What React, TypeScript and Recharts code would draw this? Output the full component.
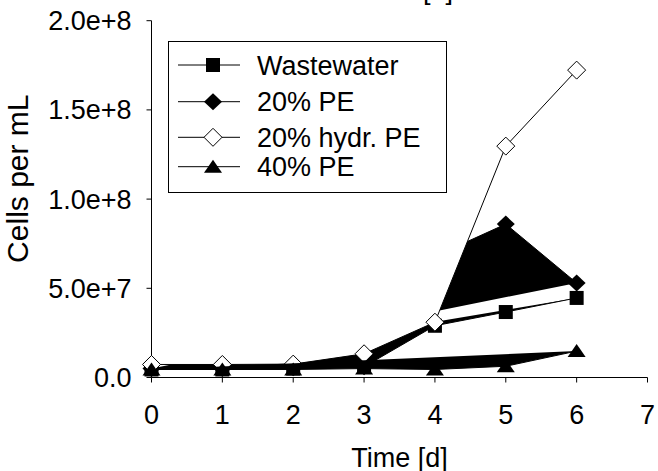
import React from "react";
import { ScatterChart, Scatter, XAxis, YAxis, Legend } from "recharts";

// cells per mL
const days = [0, 1, 2, 3, 4, 5, 6];
const wastewater = [4.5e6, 4.5e6, 5.0e6, 6.0e6, 2.9e7, 3.67e7, 4.46e7];
const pe20 = [5.0e6, 5.0e6, 5.5e6, 6.0e6, 6.8e7, 8.6e7, 5.3e7];
const pe20Hydr = [7.3e6, 7.3e6, 7.5e6, 1.33e7, 3.1e7, 1.297e8, 1.723e8];
const pe40 = [4.5e6, 4.5e6, 4.5e6, 5.0e6, 4.5e6, 6.3e6, 1.48e7];

const xTicks = [0, 1, 2, 3, 4, 5, 6, 7];
const yTicks = [0, 5e7, 1e8, 1.5e8, 2e8];
const yTickLabels = ["0.0", "5.0e+7", "1.0e+8", "1.5e+8", "2.0e+8"];

const seriesNames = ["Wastewater", "20% PE", "20% hydr. PE", "40% PE"];

const toPoints = (vals: number[]) => days.map((d, i) => ({ day: d, v: vals[i] }));

type Marker = "square" | "diamond" | "openDiamond" | "triangle";

// the exported plot fills every series path as an open polygon
const series: { key: string; values: number[]; marker: Marker; area: string }[] = [
  { key: "ww", values: wastewater, marker: "square", area: "fill-black" },
  { key: "pe20", values: pe20, marker: "diamond", area: "fill-black" },
  { key: "hydr", values: pe20Hydr, marker: "openDiamond", area: "fill-white" },
  { key: "pe40", values: pe40, marker: "triangle", area: "fill-black" },
];

function marker(kind: Marker, cx: number, cy: number, key?: string) {
  if (kind === "square")
    return <rect key={key} x={cx - 7} y={cy - 7} width={14} height={14} fill="#000" />;
  if (kind === "diamond")
    return (
      <polygon
        key={key}
        points={`${cx},${cy - 8.5} ${cx + 9},${cy} ${cx},${cy + 8.5} ${cx - 9},${cy}`}
        fill="#000"
      />
    );
  if (kind === "openDiamond")
    return (
      <polygon
        key={key}
        points={`${cx},${cy - 9} ${cx + 9},${cy} ${cx},${cy + 9} ${cx - 9},${cy}`}
        fill="#fff"
        stroke="#000"
        strokeWidth={1}
      />
    );
  return (
    <polygon
      key={key}
      points={`${cx},${cy - 7} ${cx + 9},${cy + 6} ${cx - 9},${cy + 6}`}
      fill="#000"
    />
  );
}

const css = `
.fill-black .recharts-scatter-line path { fill: #000; }
.fill-white .recharts-scatter-line path { fill: #fff; }
`;

// legend row centres inside the box
const legendRows = [23, 59.7, 95.3, 124.7];

function renderLegend() {
  return (
    <div style={{ width: 277, height: 150, border: "1px solid #000", background: "#fff" }}>
      <svg width={277} height={150}>
        {series.map((s, i) => {
          const y = legendRows[i];
          return (
            <g key={s.key}>
              <line x1={9} x2={71} y1={y} y2={y} stroke="#000" strokeWidth={1} />
              {marker(s.marker, 44, y)}
              <text x={88} y={y} dy="0.36em" fontSize={27} fill="#000">
                {seriesNames[i]}
              </text>
            </g>
          );
        })}
      </svg>
    </div>
  );
}

export default function App() {
  return (
    <div
      style={{
        position: "absolute",
        left: 0,
        top: 0,
        fontFamily: "'Liberation Sans', Arial, sans-serif",
      }}
    >
      <style>{css}</style>
      <ScatterChart
        width={658}
        height={471}
        margin={{ top: 20.7, right: 10.5, bottom: 0, left: 0 }}
      >
        <XAxis
          dataKey="day"
          type="number"
          domain={[0, 7]}
          ticks={xTicks}
          height={93.5}
          axisLine={{ stroke: "#000" }}
          tickLine={{ stroke: "#000" }}
          tickSize={5}
          tickMargin={22}
          tick={{ fill: "#000", fontSize: 27 }}
          label={{
            value: "Time [d]",
            position: "insideBottom",
            offset: 4.5,
            fontSize: 27,
            fill: "#000",
          }}
        />
        <YAxis
          dataKey="v"
          type="number"
          domain={[0, 2e8]}
          ticks={yTicks}
          width={151.5}
          axisLine={{ stroke: "#000" }}
          tickLine={{ stroke: "#000" }}
          tickSize={5}
          tickMargin={15}
          tick={{ fill: "#000", fontSize: 27 }}
          tickFormatter={(v: number) => yTickLabels[yTicks.indexOf(v)] ?? String(v)}
          label={{
            value: "Cells per mL",
            content: (p: any) => {
              const vb = p.viewBox || { x: 0, y: 20.7 };
              const x = vb.x + 28;
              const y = vb.y + 158;
              return (
                <text
                  x={x}
                  y={y}
                  transform={`rotate(-90, ${x}, ${y})`}
                  textAnchor="middle"
                  fontSize={30}
                  fill="#000"
                >
                  Cells per mL
                </text>
              );
            },
          }}
        />
        {series.map((s, i) => (
          <Scatter
            key={s.key}
            className={s.area}
            name={seriesNames[i]}
            data={toPoints(s.values)}
            fill="#000"
            line={{ stroke: "#000", strokeWidth: 1 }}
            lineType="joint"
            isAnimationActive={false}
            shape={(p: any) => marker(s.marker, p.cx, p.cy)}
          />
        ))}
        <Legend
          layout="vertical"
          align="center"
          verticalAlign="middle"
          content={renderLegend}
          wrapperStyle={{ left: 168, top: 41, width: 279, height: 152 }}
        />
        <text x={438} y={-1.5} textAnchor="middle" fontSize={27} fill="#000">
          [b]
        </text>
      </ScatterChart>
    </div>
  );
}
